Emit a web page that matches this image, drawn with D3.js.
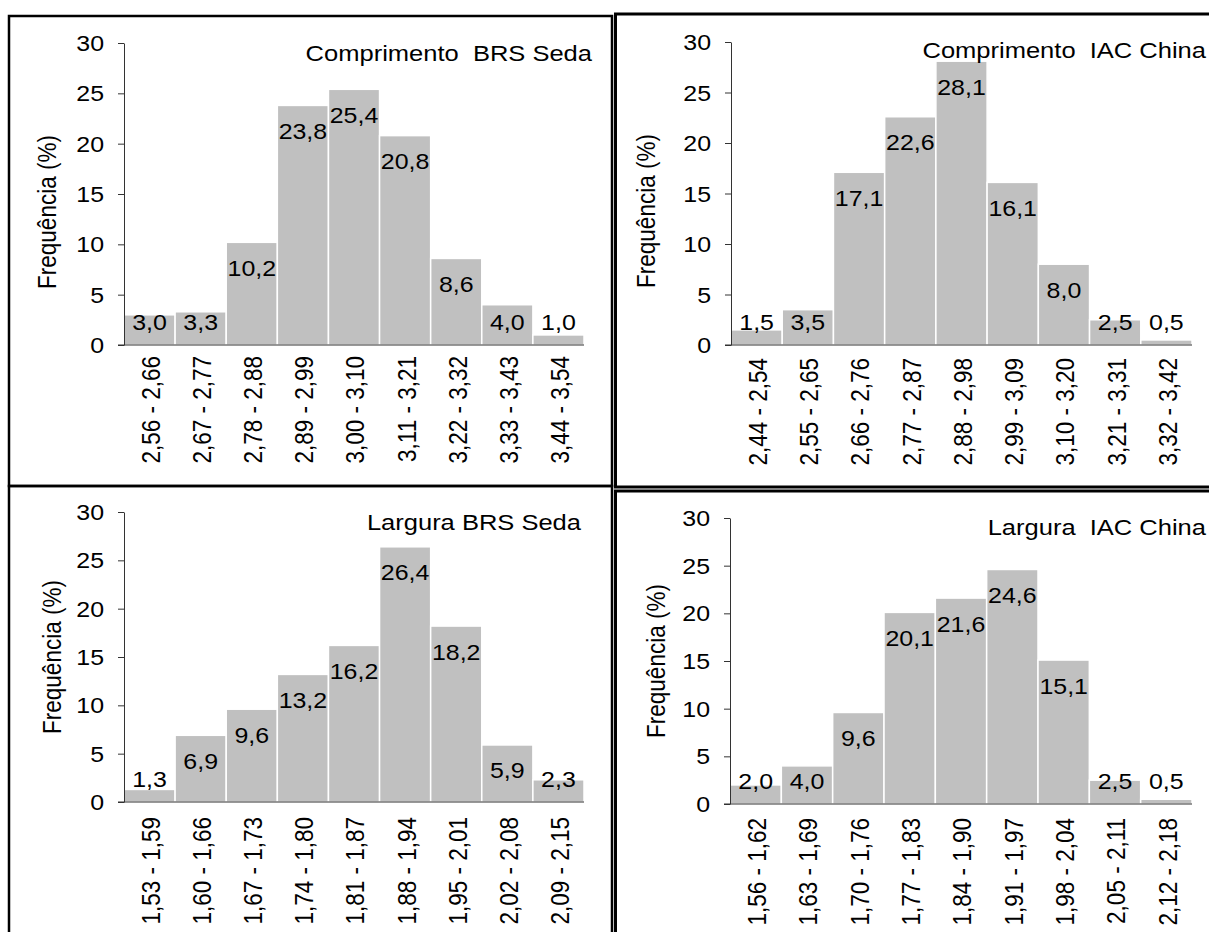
<!DOCTYPE html>
<html>
<head>
<meta charset="utf-8">
<script src="https://cdn.jsdelivr.net/npm/d3@7"></script>
<style>
  body { margin: 0; background: #fff; }
  text { font-family: Arial, "Liberation Sans", sans-serif; fill: #000; }
</style>
</head>
<body>
<svg id="chart"></svg>
<script>
// canvas size
var width = 1209,
    height = 932;

// class intervals (mm) and frequencies (%) for each panel
var compSedaCats = ["2,56 - 2,66", "2,67 - 2,77", "2,78 - 2,88", "2,89 - 2,99", "3,00 - 3,10",
                    "3,11 - 3,21", "3,22 - 3,32", "3,33 - 3,43", "3,44 - 3,54"];
var compSedaVals = [3.0, 3.3, 10.2, 23.8, 25.4, 20.8, 8.6, 4.0, 1.0];

var compChinaCats = ["2,44 - 2,54", "2,55 - 2,65", "2,66 - 2,76", "2,77 - 2,87", "2,88 - 2,98",
                     "2,99 - 3,09", "3,10 - 3,20", "3,21 - 3,31", "3,32 - 3,42"];
var compChinaVals = [1.5, 3.5, 17.1, 22.6, 28.1, 16.1, 8.0, 2.5, 0.5];

var largSedaCats = ["1,53 - 1,59", "1,60 - 1,66", "1,67 - 1,73", "1,74 - 1,80", "1,81 - 1,87",
                    "1,88 - 1,94", "1,95 - 2,01", "2,02 - 2,08", "2,09 - 2,15"];
var largSedaVals = [1.3, 6.9, 9.6, 13.2, 16.2, 26.4, 18.2, 5.9, 2.3];

var largChinaCats = ["1,56 - 1,62", "1,63 - 1,69", "1,70 - 1,76", "1,77 - 1,83", "1,84 - 1,90",
                     "1,91 - 1,97", "1,98 - 2,04", "2,05 - 2,11", "2,12 - 2,18"];
var largChinaVals = [2.0, 4.0, 9.6, 20.1, 21.6, 24.6, 15.1, 2.5, 0.5];

var panelTitles = ["Comprimento\u00a0 BRS Seda", "Comprimento\u00a0 IAC China",
                   "Largura BRS Seda", "Largura\u00a0 IAC China"];
var yTicks = [0, 5, 10, 15, 20, 25, 30];
var yLabel = "Frequência (%)";

// the source picture is stretched a bit horizontally
var sx = 1.16;

var svg = d3.select("#chart")
    .attr("width", width)
    .attr("height", height);

// panel frames
svg.append("rect").attr("x", 9).attr("y", 16).attr("width", 603).attr("height", 470)
    .style("fill", "none").style("stroke", "#000").style("stroke-width", 2.5);
svg.append("rect").attr("x", 9).attr("y", 486).attr("width", 603).attr("height", 470)
    .style("fill", "none").style("stroke", "#000").style("stroke-width", 2.5);
svg.append("rect").attr("x", 615.5).attr("y", 14).attr("width", 640).attr("height", 473)
    .style("fill", "none").style("stroke", "#000").style("stroke-width", 3);
svg.append("rect").attr("x", 615.5).attr("y", 491).attr("width", 640).attr("height", 470)
    .style("fill", "none").style("stroke", "#000").style("stroke-width", 3);

// where each panel sits
var panels = [
  { cats: compSedaCats,  vals: compSedaVals,  title: panelTitles[0],
    left: 124, right: 584, top: 43,  bottom: 345, titleX: 592,  titleY: 61,  labX: 47,  labY: 212, catTop: 356 },
  { cats: compChinaCats, vals: compChinaVals, title: panelTitles[1],
    left: 731, right: 1192, top: 42, bottom: 345, titleX: 1206, titleY: 58,  labX: 646, labY: 211, catTop: 358 },
  { cats: largSedaCats,  vals: largSedaVals,  title: panelTitles[2],
    left: 124, right: 584, top: 512, bottom: 802, titleX: 581, titleY: 530, labX: 52,  labY: 657, catTop: 817 },
  { cats: largChinaCats, vals: largChinaVals, title: panelTitles[3],
    left: 730, right: 1192, top: 518, bottom: 804, titleX: 1206, titleY: 535, labX: 656, labY: 661, catTop: 818 }
];

function fmt(v) {
  return d3.format(".1f")(v).replace(".", ",");
}

// text with the horizontal stretch applied
function stretched(g, x, y, str, size, anchor, rot) {
  return g.append("text")
      .attr("transform", "translate(" + x + "," + y + ") scale(" + sx + ",1)" + (rot ? " rotate(" + rot + ")" : ""))
      .style("font-size", size + "px")
      .style("text-anchor", anchor)
      .text(str);
}

function drawPanel(p) {
  var g = svg.append("g");

  var x = d3.scaleBand()
      .domain(p.cats)
      .range([p.left, p.right])
      .padding(0);

  var y = d3.scaleLinear()
      .domain([0, 30])
      .range([p.bottom, p.top]);

  // bars
  g.selectAll(".bar")
    .data(p.vals)
    .enter().append("rect")
      .classed("bar", true)
      .attr("x", function(d, i) { return x(p.cats[i]); })
      .attr("width", x.bandwidth())
      .attr("y", function(d) { return y(d); })
      .attr("height", function(d) { return y(0) - y(d); })
      .style("fill", "#c0c0c0")
      .style("stroke", "#fff")
      .style("stroke-width", 1.5);

  // y axis
  var ya = g.append("g")
      .attr("transform", "translate(" + p.left + ",0)")
      .call(d3.axisLeft(y).tickValues(yTicks).tickSize(6).tickSizeOuter(0));
  ya.select(".domain").style("stroke", "#333");
  ya.selectAll(".tick line").style("stroke", "#333");
  ya.selectAll(".tick text")
      .attr("x", null).attr("dy", null)
      .attr("transform", "translate(-20,7.5) scale(" + sx + ",1)")
      .style("font-size", "21.5px")
      .style("font-family", "Arial, 'Liberation Sans', sans-serif")
      .style("fill", "#000");

  // x axis line (goes a little past the y axis)
  g.append("line")
      .attr("x1", p.left - 6).attr("x2", p.right)
      .attr("y1", y(0)).attr("y2", y(0))
      .style("stroke", "#333").style("stroke-width", 1.2);

  // category labels, rotated
  p.cats.forEach(function(c) {
    stretched(g, x(c) + x.bandwidth() / 2 + 1, p.catTop, c, 22.5, "end", -90)
        .attr("dy", "0.36em");
  });

  // value labels at the inside end of each bar
  p.vals.forEach(function(v, i) {
    var cy = Math.min(y(v) + 26, y(0) - 23);
    stretched(g, x(p.cats[i]) + x.bandwidth() / 2, cy + 7.5, fmt(v), 21.5, "middle");
  });

  // panel title
  stretched(g, p.titleX, p.titleY, p.title, 22, "end");

  // y axis title
  stretched(g, p.labX, p.labY, yLabel, 22.5, "middle", -90)
      .attr("dy", "0.36em");
}

panels.forEach(drawPanel);
</script>
</body>
</html>
